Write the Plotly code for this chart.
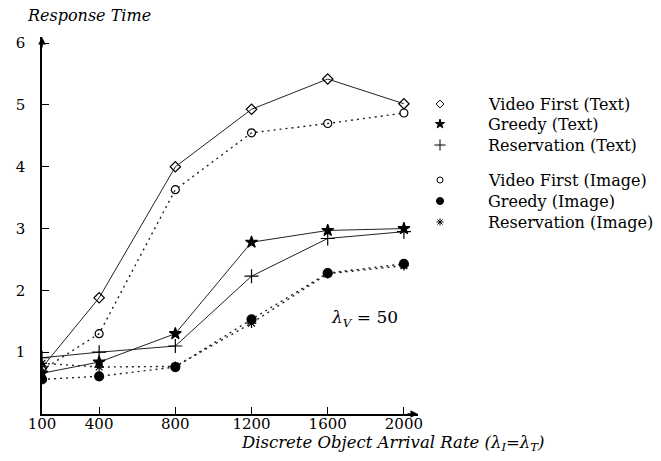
import plotly.graph_objects as go

x_vals = [100, 400, 800, 1200, 1600, 2000]
vf_text = [0.75, 1.88, 4.0, 4.93, 5.42, 5.02]
greedy_text = [0.66, 0.84, 1.3, 2.78, 2.97, 3.0]
resv_text = [0.91, 1.0, 1.1, 2.23, 2.84, 2.95]
vf_image = [0.71, 1.3, 3.63, 4.55, 4.7, 4.87]
greedy_image = [0.56, 0.61, 0.76, 1.53, 2.28, 2.43]
resv_image = [0.82, 0.76, 0.77, 1.47, 2.27, 2.4]

names = ["Video First (Text)", "Greedy (Text)", "Reservation (Text)",
         "Video First (Image)", "Greedy (Image)", "Reservation (Image)"]
series = [vf_text, greedy_text, resv_text, vf_image, greedy_image, resv_image]
y_ticks = [1, 2, 3, 4, 5, 6]

symbols = ["diamond-open", "star", "cross-thin-open", "circle-open", "circle", "asterisk-open"]
sizes = [8, 9, 10, 8, 9, 8]
dashes = ["solid", "solid", "solid", "2px,4px", "2px,4px", "2px,4px"]

# pixel layout helpers (figure is 661 x 461)
W, H = 661, 461
PL, PR, PT, PB = 42, 418, 37, 414
legend_rows = [104, 124, 145, 180, 201, 222]
LEG_MX, LEG_TX = 440, 486

FONT = "DejaVu Serif"
fig = go.Figure()
for name, ys, sym, sz, dsh in zip(names, series, symbols, sizes, dashes):
    fig.add_trace(go.Scatter(
        x=x_vals, y=ys, mode="lines+markers", name=name, showlegend=False,
        line=dict(color="#222", width=1 if dsh == "solid" else 1.4, dash=dsh),
        marker=dict(symbol=sym, size=sz, color="black", line=dict(color="black", width=1.2)),
        xaxis="x", yaxis="y",
    ))

# legend symbols on a hidden full-figure pixel axis
for name, sym, sz, ry in zip(names, symbols, sizes, legend_rows):
    fig.add_trace(go.Scatter(
        x=[LEG_MX], y=[ry], mode="markers", showlegend=False, hoverinfo="skip",
        marker=dict(symbol=sym, size=max(sz - 2, 6), color="black", line=dict(color="black", width=1)),
        xaxis="x2", yaxis="y2",
    ))
    fig.add_annotation(x=LEG_TX, y=ry, xref="x2", yref="y2", xanchor="left", yanchor="middle",
                       showarrow=False, text=name, font=dict(family=FONT, size=16))

fig.update_layout(
    width=W, height=H,
    margin=dict(l=0, r=0, t=0, b=0, autoexpand=False),
    plot_bgcolor="rgba(0,0,0,0)", paper_bgcolor="white",
    font=dict(family=FONT, size=15, color="black"),
    showlegend=False,
    xaxis=dict(domain=[PL / W, PR / W], anchor="y", automargin=False,
               range=[100, 2074], tickvals=x_vals, ticktext=[str(v) for v in x_vals],
               showline=True, linecolor="black", linewidth=1.5, ticks="inside",
               ticklen=7, tickcolor="black", showgrid=False, zeroline=False,
               tickfont=dict(family=FONT, size=15), ticklabelstandoff=-5),
    yaxis=dict(domain=[(H - PB) / H, (H - PT) / H], anchor="x", automargin=False,
               range=[0, 6.1], tickvals=y_ticks,
               showline=True, linecolor="black", linewidth=1.5, ticks="inside",
               ticklen=7, tickcolor="black", showgrid=False, zeroline=False,
               tickfont=dict(family=FONT, size=15), ticklabelstandoff=12),
    xaxis2=dict(domain=[0, 1], anchor="y2", range=[0, W], visible=False,
                fixedrange=True, automargin=False),
    yaxis2=dict(domain=[0, 1], anchor="x2", range=[H, 0], visible=False,
                fixedrange=True, automargin=False),
)
# axis arrows
fig.add_annotation(x=2074, y=0, xref="x", yref="y", ax=-12, ay=0, axref="pixel", ayref="pixel",
                   showarrow=True, arrowhead=2, arrowsize=1, arrowwidth=1.5,
                   arrowcolor="black", text="")
fig.add_annotation(x=100, y=6.1, xref="x", yref="y", ax=0, ay=12, axref="pixel", ayref="pixel",
                   showarrow=True, arrowhead=2, arrowsize=1, arrowwidth=1.5,
                   arrowcolor="black", text="")
# titles
fig.add_annotation(x=25, y=15, xref="x2", yref="y2", xanchor="left", yanchor="middle",
                   showarrow=False, text="<i>Response Time</i>", font=dict(family=FONT, size=16))
fig.add_annotation(x=392, y=443, xref="x2", yref="y2", xanchor="center", yanchor="middle",
                   showarrow=False,
                   text="<i>Discrete Object Arrival Rate (λ<sub>I</sub>=λ<sub>T</sub>)</i>",
                   font=dict(family=FONT, size=16.5))
fig.add_annotation(x=1795, y=1.55, xref="x", yref="y", showarrow=False,
                   text="<i>λ</i><sub><i>V</i></sub> = 50", font=dict(family=FONT, size=17))

fig.write_html("out.html")
